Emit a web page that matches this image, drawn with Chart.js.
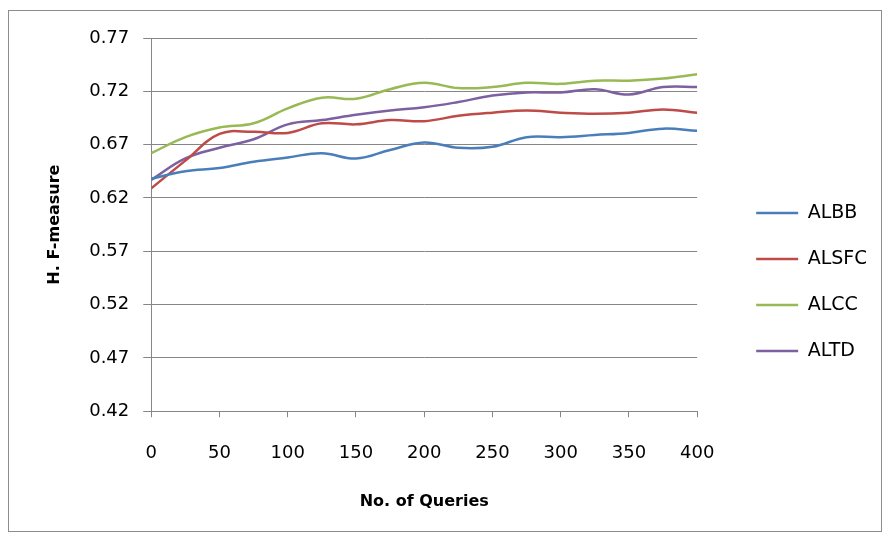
<!DOCTYPE html>
<html lang="en">
<head>
    <meta charset="UTF-8">
    <title>H. F-measure vs No. of Queries</title>
    <script src="https://cdn.jsdelivr.net/npm/chart.js"></script>
    <style>
        body {
            margin: 0;
            background: #ffffff;
        }
        #frame {
            position: absolute;
            left: 8px;
            top: 10px;
            width: 872px;
            height: 520px;
            border: 1px solid #8c8c8c;
        }
    </style>
</head>
<body>
<div id="frame">
    <canvas id="grafico" width="872" height="520"></canvas>
</div>
<script>
    // dados
    var queries = [0, 25, 50, 75, 100, 125, 150, 175, 200, 225, 250, 275, 300, 325, 350, 375, 400];
    var albb  = [0.638, 0.645, 0.648, 0.654, 0.658, 0.662, 0.657, 0.665, 0.672, 0.667, 0.668, 0.677, 0.677, 0.679, 0.681, 0.685, 0.683];
    var alsfc = [0.629, 0.655, 0.680, 0.682, 0.681, 0.690, 0.689, 0.693, 0.692, 0.697, 0.700, 0.702, 0.700, 0.699, 0.700, 0.703, 0.700];
    var alcc  = [0.662, 0.677, 0.686, 0.690, 0.704, 0.714, 0.713, 0.722, 0.728, 0.723, 0.724, 0.728, 0.727, 0.730, 0.730, 0.732, 0.736];
    var altd  = [0.637, 0.657, 0.667, 0.675, 0.689, 0.693, 0.698, 0.702, 0.705, 0.710, 0.716, 0.719, 0.719, 0.722, 0.717, 0.724, 0.724];
    var yTicks = [0.42, 0.47, 0.52, 0.57, 0.62, 0.67, 0.72, 0.77];

    var cores = ['#4a7ebb', '#be4b48', '#98b954', '#7d60a0'];
    var nomes = ['ALBB', 'ALSFC', 'ALCC', 'ALTD'];
    var series = [albb, alsfc, alcc, altd];

    function serie(i) {
        return {
            label: nomes[i],
            data: queries.map(function (q, k) { return { x: q, y: series[i][k] }; }),
            yAxisID: 'y',
            borderColor: cores[i],
            backgroundColor: cores[i],
            borderWidth: 2.5,
            pointRadius: 0,
            tension: 0.4,
            fill: false
        };
    }

    Chart.defaults.font.family = '"DejaVu Sans", sans-serif';
    Chart.defaults.color = '#000000';

    new Chart(document.getElementById('grafico').getContext('2d'), {
        type: 'line',
        data: { datasets: [serie(0), serie(1), serie(2), serie(3)] },
        options: {
            responsive: false,
            animation: false,
            layout: { padding: { left: 36, top: 27, right: 15, bottom: 5 } },
            plugins: {
                tooltip: { enabled: false },
                legend: {
                    position: 'right',
                    labels: {
                        usePointStyle: true,
                        pointStyle: 'line',
                        pointStyleWidth: 42,
                        padding: 27,
                        font: { size: 19 },
                        color: '#000000'
                    }
                }
            },
            scales: {
                x: {
                    type: 'linear',
                    min: 0,
                    max: 400,
                    ticks: { stepSize: 50, padding: 25, font: { size: 18 } },
                    grid: { drawOnChartArea: false, drawTicks: true, tickLength: 6, color: '#868686' },
                    border: { color: '#868686', width: 1 },
                    title: { display: true, text: 'No. of Queries', font: { size: 16, weight: 'bold' }, padding: { top: 3, bottom: 15 } }
                },
                y: {
                    min: 0.42,
                    max: 0.77,
                    afterBuildTicks: function (axis) {
                        axis.ticks = yTicks.map(function (v) { return { value: v }; });
                    },
                    ticks: {
                        padding: 14,
                        font: { size: 18 },
                        callback: function (v) { return v.toFixed(2); }
                    },
                    grid: { color: '#868686', tickLength: 8 },
                    border: { color: '#868686', width: 1 },
                    title: { display: true, text: 'H. F-measure', font: { size: 16, weight: 'bold' }, padding: { top: 0, bottom: 11 } }
                },
                // espaço vazio entre o gráfico e a legenda
                gap: {
                    position: 'right',
                    display: true,
                    grid: { display: false, drawTicks: false },
                    border: { display: false },
                    ticks: { display: false },
                    afterFit: function (s) { s.width = 32; }
                }
            }
        }
    });
</script>
</body>
</html>
